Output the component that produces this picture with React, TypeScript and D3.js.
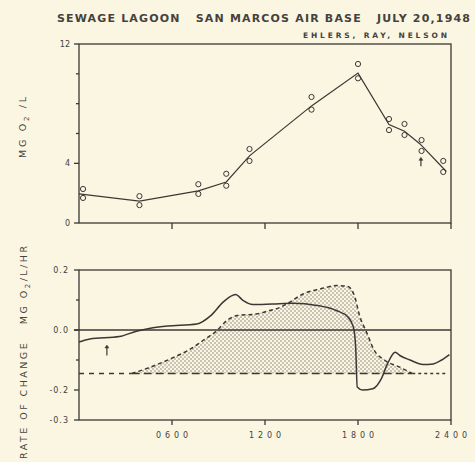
import React from "react";
import * as d3 from "d3";

// Top panel: dissolved oxygen (mg O2/L)
const sampleHours = [0.26, 3.9, 7.7, 9.5, 11.0, 15.0, 18.0, 20.0, 21.0, 22.1, 23.5];
const doHigh = [2.28, 1.8, 2.6, 3.3, 4.96, 8.45, 10.66, 6.97, 6.64, 5.56, 4.16];
const doLow = [1.68, 1.2, 1.95, 2.5, 4.16, 7.6, 9.7, 6.23, 5.9, 4.83, 3.42];
const lineHours = [0, 3.9, 7.7, 9.5, 11.0, 15.0, 18.0, 20.0, 21.0, 22.0, 23.7];
const lineValues = [1.95, 1.47, 2.15, 2.75, 4.5, 7.85, 10.05, 6.6, 6.15, 5.3, 3.45];

// Bottom panel: rate of change (mg O2/L/hr)
const rateHours = [0, 0.7, 2.6, 3.7, 4.6, 5.7, 7.6, 8.5, 9.3, 10.1, 10.6, 11.2, 12.5, 13.8, 15.35, 16.6, 17.35, 17.7, 17.85, 17.95, 18.3, 18.95, 19.5, 19.9, 20.4, 20.7, 21.35, 22.2, 22.85, 23.4, 23.9];
const rateValues = [-0.04, -0.03, -0.022, -0.004, 0.006, 0.013, 0.02, 0.048, 0.093, 0.118, 0.098, 0.085, 0.087, 0.089, 0.082, 0.065, 0.043, 0.01, -0.057, -0.19, -0.2, -0.196, -0.163, -0.113, -0.074, -0.085, -0.1, -0.115, -0.113, -0.1, -0.082];
const gainHours = [3.4, 4.6, 5.9, 7.2, 8.0, 8.9, 9.55, 10.2, 11.5, 12.3, 13.0, 13.6, 14.45, 15.55, 16.65, 17.35, 17.8, 18.1, 18.55, 19.05, 19.7, 20.7, 21.5];
const gainValues = [-0.145, -0.124, -0.096, -0.063, -0.035, -0.002, 0.032, 0.048, 0.054, 0.065, 0.076, 0.093, 0.12, 0.137, 0.148, 0.145, 0.109, 0.048, -0.007, -0.068, -0.1, -0.124, -0.145];
const respValue = -0.145;
const respSegments = [[0, 3.4], [3.4, 21.5], [21.5, 23.8]];

const topMajorTicks = [0, 4, 12];
const topMinorTicks = [6, 8, 10];
const botTicks = [0.2, 0.0, -0.2, -0.3];
const botMinorTicks = [0.1, -0.1];
const xTicks = [6, 12, 18, 24];
const xTickLabels = ["0600", "1200", "1800", "2400"];
const arrowTop = { h: 22.06, v0: 3.8, v1: 4.4 };
const arrowBot = { h: 1.8, v0: -0.085, v1: -0.05 };

const INK = "#3a3835";
const TXT = "#45423e";
const BG = "#fbf6e2";
const FONT = "'DejaVu Sans', sans-serif";

export default function App() {
  const x = d3.scaleLinear().domain([0, 24]).range([79, 451]);
  const yT = d3.scaleLinear().domain([0, 12]).range([223, 44]);
  const yB = d3.scaleLinear().domain([-0.3, 0.2]).range([420, 270]);

  const topLine = d3.line<number>().x((_, i) => x(lineHours[i])).y((d) => yT(d))(lineValues) || "";
  const rateLine = d3.line<number>().x((_, i) => x(rateHours[i])).y((d) => yB(d)).curve(d3.curveMonotoneX)(rateValues) || "";
  const gainLine = d3.line<number>().x((_, i) => x(gainHours[i])).y((d) => yB(d)).curve(d3.curveMonotoneX)(gainValues) || "";
  const gainArea = d3.area<number>().x((_, i) => x(gainHours[i])).y0(yB(respValue)).y1((d) => yB(d)).curve(d3.curveMonotoneX)(gainValues) || "";

  const respDash = ["5,5", "8,4", "3,3"];

  const arrow = (h: number, y0: number, y1: number, key: string) => {
    const cx = x(h);
    return (
      <g key={key} stroke={INK} fill={INK}>
        <line x1={cx} x2={cx} y1={y0} y2={y1 + 2} strokeWidth={1.2} />
        <path d={`M${cx - 2},${y1 + 3} L${cx},${y1} L${cx + 2},${y1 + 3} Z`} strokeWidth={0.5} />
      </g>
    );
  };

  return (
    <svg width={475} height={462} style={{ position: "absolute", left: 0, top: 0, background: BG }} fontFamily={FONT}>
      <defs>
        <pattern id="stip" width={4} height={4} patternUnits="userSpaceOnUse">
          <circle cx={1} cy={1} r={0.8} fill="#86837a" />
          <circle cx={3} cy={3} r={0.8} fill="#86837a" />
        </pattern>
      </defs>
      <rect width={475} height={462} fill={BG} />

      {/* Titles */}
      <text x={57} y={22} fontSize={11} fontWeight="bold" fill={TXT} textLength={413} lengthAdjust="spacing" style={{ whiteSpace: "pre" }}>SEWAGE LAGOON   SAN MARCOS AIR BASE   JULY 20,1948</text>
      <text x={303} y={38} fontSize={7.5} fill={TXT} fontWeight="bold" textLength={144} lengthAdjust="spacing">EHLERS, RAY, NELSON</text>

      {/* Top panel frame */}
      <g stroke={INK} strokeWidth={1.3} fill="none">
        <rect x={x(0)} y={yT(12)} width={x(24) - x(0)} height={yT(0) - yT(12)} />
        {topMajorTicks.map((t) => <line key={"tm" + t} x1={x(0) - 5} x2={x(0)} y1={yT(t)} y2={yT(t)} />)}
        {topMinorTicks.map((t) => <line key={"tn" + t} x1={x(0) - 3} x2={x(0)} y1={yT(t)} y2={yT(t)} />)}
        {xTicks.map((t) => <line key={"tx" + t} x1={x(t)} x2={x(t)} y1={yT(0)} y2={yT(0) + 6} />)}
      </g>
      {topMajorTicks.map((t) => (
        <text key={"tl" + t} x={x(0) - 9} y={yT(t) + 3} fontSize={8} fill={TXT} textAnchor="end">{t}</text>
      ))}
      <text transform={`translate(26,158) rotate(-90)`} fontSize={9.5} fill={TXT} textLength={61} lengthAdjust="spacing">
        MG O<tspan fontSize={7} dy={3}>2</tspan><tspan dy={-3}> /L</tspan>
      </text>

      <path d={topLine} fill="none" stroke={INK} strokeWidth={1.2} />
      {sampleHours.map((h, i) => (
        <g key={"c" + i} fill="none" stroke={INK} strokeWidth={1}>
          <circle cx={x(h)} cy={yT(doHigh[i])} r={2.6} />
          <circle cx={x(h)} cy={yT(doLow[i])} r={2.6} />
        </g>
      ))}
      {arrow(arrowTop.h, yT(arrowTop.v0), yT(arrowTop.v1), "at")}

      {/* Bottom panel */}
      <path d={gainArea} fill="url(#stip)" stroke="none" />
      <path d={gainLine} fill="none" stroke={INK} strokeWidth={1.5} strokeDasharray="4,3" />
      {respSegments.map((s, i) => (
        <line key={"r" + i} x1={x(s[0])} x2={x(s[1])} y1={yB(respValue)} y2={yB(respValue)} stroke={INK} strokeWidth={1.4} strokeDasharray={respDash[i]} />
      ))}
      <g stroke={INK} strokeWidth={1.3} fill="none">
        <rect x={x(0)} y={yB(0.2)} width={x(24) - x(0)} height={yB(-0.3) - yB(0.2)} />
        <line x1={x(0) - 5} x2={x(24)} y1={yB(0)} y2={yB(0)} />
        {botTicks.map((t) => <line key={"bm" + t} x1={x(0) - 5} x2={x(0)} y1={yB(t)} y2={yB(t)} />)}
        {botMinorTicks.map((t) => <line key={"bn" + t} x1={x(0) - 3} x2={x(0)} y1={yB(t)} y2={yB(t)} />)}
        {xTicks.map((t) => <line key={"bx" + t} x1={x(t)} x2={x(t)} y1={yB(-0.3)} y2={yB(-0.3) + 5} />)}
      </g>
      <path d={rateLine} fill="none" stroke={INK} strokeWidth={1.5} />
      {arrow(arrowBot.h, yB(arrowBot.v0), yB(arrowBot.v1), "ab")}
      {botTicks.map((t) => (
        <text key={"bl" + t} x={x(0) - 10} y={yB(t) + 3} fontSize={8} fill={TXT} textAnchor="end" letterSpacing={1}>{t < 0 ? "-" + Math.abs(t).toFixed(1) : t.toFixed(1)}</text>
      ))}
      {xTicks.map((t, i) => (
        <text key={"xl" + t} x={x(t) - 16} y={438} fontSize={8} fill={TXT} textLength={32} lengthAdjust="spacing">{xTickLabels[i]}</text>
      ))}
      <text transform={`translate(27,459) rotate(-90)`} fontSize={9.5} fill={TXT} textLength={213} lengthAdjust="spacing" style={{ whiteSpace: "pre" }}>
        RATE OF CHANGE   MG O<tspan fontSize={7} dy={3}>2</tspan><tspan dy={-3}>/L/HR</tspan>
      </text>
    </svg>
  );
}
